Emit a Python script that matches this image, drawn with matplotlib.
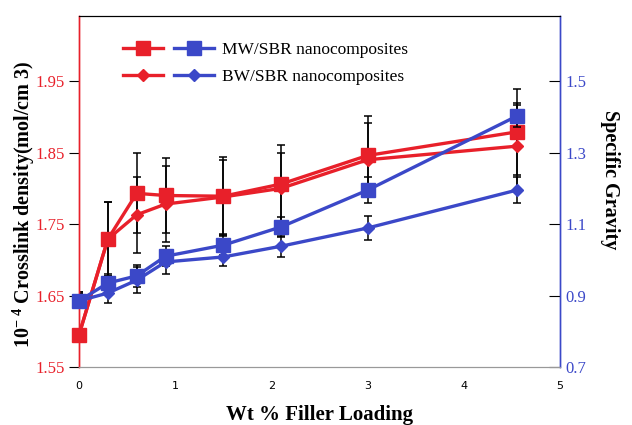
import matplotlib
matplotlib.use("Agg")
import matplotlib.pyplot as plt
from matplotlib.legend_handler import HandlerTuple

plt.rcParams['font.family'] = ['Liberation Serif', 'DejaVu Serif']
plt.rcParams['mathtext.fontset'] = 'custom'
plt.rcParams['mathtext.rm'] = 'Liberation Serif:bold'
plt.rcParams['mathtext.bf'] = 'Liberation Serif:bold'
plt.rcParams['mathtext.it'] = 'Liberation Serif:bold'

# Data
loading = [0, 0.3, 0.6, 0.9, 1.5, 2.1, 3.0, 4.55]
mw_crosslink = [1.595, 1.729, 1.793, 1.790, 1.789, 1.806, 1.846, 1.879]
mw_crosslink_err = [0.06, 0.052, 0.056, 0.053, 0.055, 0.055, 0.055, 0.06]
bw_crosslink = [1.595, 1.729, 1.763, 1.778, 1.788, 1.800, 1.840, 1.859]
bw_crosslink_err = [0.06, 0.052, 0.053, 0.053, 0.052, 0.050, 0.052, 0.06]
mw_sg = [0.885, 0.935, 0.955, 1.010, 1.041, 1.092, 1.195, 1.402]
mw_sg_err = [0.02, 0.025, 0.03, 0.028, 0.028, 0.028, 0.036, 0.03]
bw_sg = [0.885, 0.907, 0.943, 0.994, 1.008, 1.038, 1.089, 1.195]
bw_sg_err = [0.02, 0.028, 0.036, 0.034, 0.025, 0.03, 0.034, 0.036]

left_ticks = [1.55, 1.65, 1.75, 1.85, 1.95]
right_ticks = [0.7, 0.9, 1.1, 1.3, 1.5]
x_ticks = [0, 1, 2, 3, 4, 5]

RED = '#e8202a'
BLUE = '#3b48c8'

fig = plt.figure(figsize=(6.32, 4.25), dpi=100)
ax = fig.add_axes([0.125, 0.1365, 0.761, 0.8255])
ax2 = ax.twinx()

ekw = dict(fmt='none', ecolor='black', elinewidth=1.1, capsize=3, capthick=1.1)
ax.errorbar(loading, mw_crosslink, yerr=mw_crosslink_err, zorder=1, **ekw)
ax.errorbar(loading, bw_crosslink, yerr=bw_crosslink_err, zorder=1, **ekw)
ax2.errorbar(loading, mw_sg, yerr=mw_sg_err, zorder=1, **ekw)
ax2.errorbar(loading, bw_sg, yerr=bw_sg_err, zorder=1, **ekw)

l1, = ax.plot(loading, mw_crosslink, color=RED, lw=2.4, marker='s', ms=10, zorder=3, clip_on=False)
l2, = ax.plot(loading, bw_crosslink, color=RED, lw=2.4, marker='D', ms=6.5, zorder=3, clip_on=False)
l3, = ax2.plot(loading, mw_sg, color=BLUE, lw=2.4, marker='s', ms=10, zorder=3, clip_on=False)
l4, = ax2.plot(loading, bw_sg, color=BLUE, lw=2.4, marker='D', ms=6.5, zorder=3, clip_on=False)

ax.set_xlim(0, 5)
ax.set_ylim(1.55, 2.041)
ax2.set_ylim(0.7, 1.682)

ax.set_xticks(x_ticks)
ax.set_xticklabels([str(t) for t in x_ticks], family='DejaVu Sans', fontsize=8)
ax.tick_params(axis='x', length=0, pad=10)
ax.set_yticks(left_ticks)
ax.set_yticklabels([f"{t:.2f}" for t in left_ticks], color=RED, fontsize=12)
ax.tick_params(axis='y', direction='out', length=7, color='black', pad=3)
ax2.set_yticks(right_ticks)
ax2.set_yticklabels([f"{t:.1f}" for t in right_ticks], color=BLUE, fontsize=12)
ax2.tick_params(axis='y', direction='in', length=8, color='black', pad=4)

for a in (ax, ax2):
    a.spines['left'].set_color(RED)
    a.spines['right'].set_color(BLUE)
    a.spines['top'].set_color('black')
    a.spines['bottom'].set_color('#999999')
    a.spines['left'].set_linewidth(1.0)
    a.spines['right'].set_linewidth(1.0)

ax.set_xlabel('Wt % Filler Loading', fontsize=15, fontweight='bold', labelpad=10)
ax.set_ylabel(r'10$^{-\ 4}$ Crosslink density(mol/cm 3)', fontsize=14.5, fontweight='bold')
ax.yaxis.set_label_coords(-0.088, 0.465)
ax2.set_ylabel('Specific Gravity', fontsize=14.5, fontweight='bold', rotation=-90)
ax2.yaxis.set_label_coords(1.125, 0.535)

ax2.legend([(l1, l3), (l2, l4)], ['MW/SBR nanocomposites', 'BW/SBR nanocomposites'],
           handler_map={tuple: HandlerTuple(ndivide=None, pad=0.6)},
           loc='upper left', bbox_to_anchor=(0.06, 0.97), frameon=False,
           fontsize=12.5, handlelength=5.2, handletextpad=0.5, labelspacing=0.6)

fig.savefig('out.png', dpi=100)
